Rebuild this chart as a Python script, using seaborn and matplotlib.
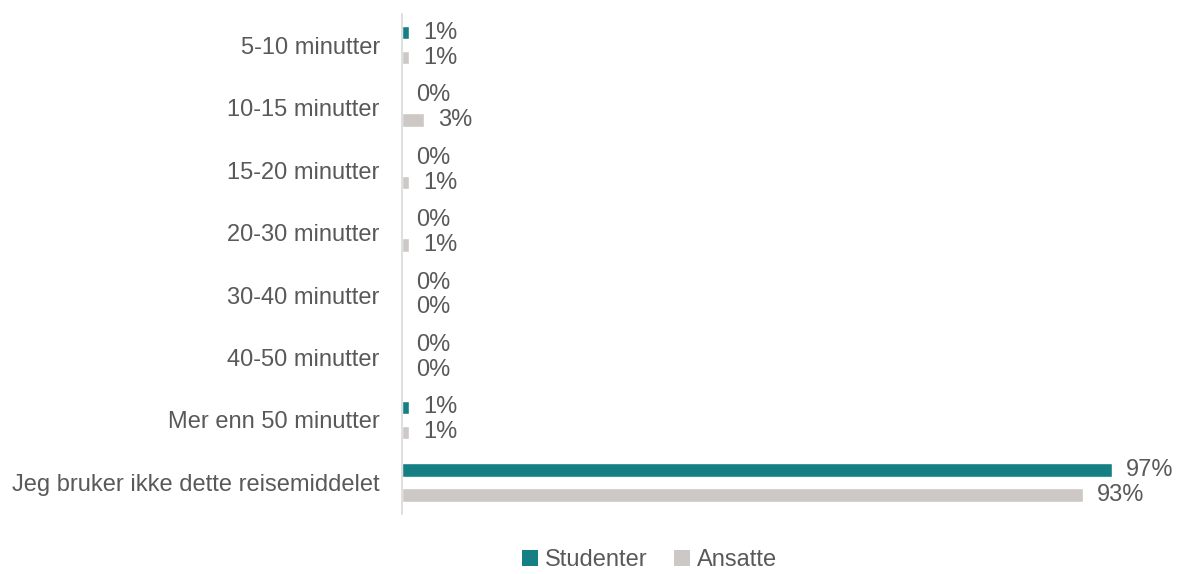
import matplotlib
matplotlib.use("Agg")
import matplotlib.pyplot as plt
from matplotlib.patches import Patch
import pandas as pd
import seaborn as sns

# Survey: travel time with this mode of transport
categories = [
    "5-10 minutter",
    "10-15 minutter",
    "15-20 minutter",
    "20-30 minutter",
    "30-40 minutter",
    "40-50 minutter",
    "Mer enn 50 minutter",
    "Jeg bruker ikke dette reisemiddelet",
]
studenter = [1, 0, 0, 0, 0, 0, 1, 97]
ansatte = [1, 3, 1, 1, 0, 0, 1, 93]
series_names = ["Studenter", "Ansatte"]
colors = ["#157f84", "#cdc8c6"]

df = pd.DataFrame({
    "kategori": categories * 2,
    "andel": studenter + ansatte,
    "gruppe": [series_names[0]] * len(categories) + [series_names[1]] * len(categories),
})

sns.set_theme(style="white")
plt.rcParams["font.family"] = ["Liberation Sans", "DejaVu Sans"]
text_color = "#595959"
fs = 17

fig = plt.figure(figsize=(11.79, 5.74), dpi=100)
ax = fig.add_axes([0.341, 0.105, 0.621, 0.871])

sns.barplot(
    data=df, y="kategori", x="andel", hue="gruppe", order=categories,
    hue_order=series_names, palette=colors, orient="h",
    width=0.8, gap=0.45, ax=ax, legend=False, saturation=1,
)

for container in ax.containers:
    ax.bar_label(container, labels=[f"{v:.0f}%" for v in container.datavalues],
                 padding=10, fontsize=fs, color=text_color)

ax.set_xlim(0, 100)
ax.set_ylim(len(categories) - 0.5, -0.5)
ax.set_xlabel("")
ax.set_ylabel("")
ax.set_xticks([])
ax.tick_params(axis="y", length=0, labelsize=fs, labelcolor=text_color, pad=16)
for side in ["top", "right", "bottom"]:
    ax.spines[side].set_visible(False)
ax.spines["left"].set_color("#d9d9d9")
ax.spines["left"].set_linewidth(1.2)

handles = [Patch(facecolor=c, edgecolor="none", label=n) for c, n in zip(colors, series_names)]
fig.legend(handles=handles, loc="center", bbox_to_anchor=(0.551, 0.024), ncol=2,
           frameon=False, fontsize=fs, handlelength=0.65, handleheight=0.65,
           handletextpad=0.3, columnspacing=1.15, labelcolor=text_color,
           borderpad=0.1)

fig.savefig("out.png", dpi=100)
